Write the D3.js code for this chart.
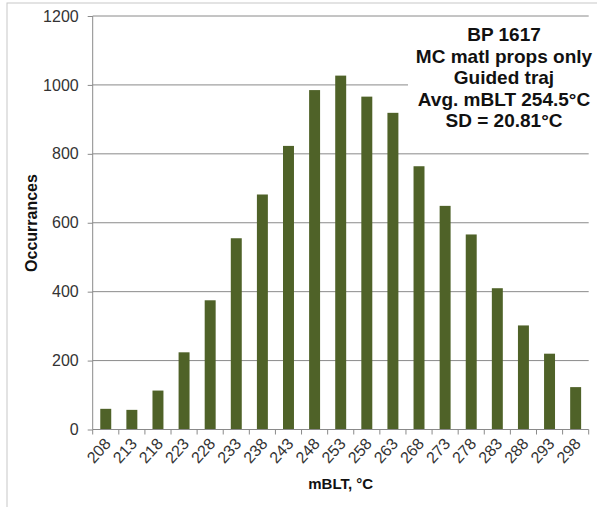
<!DOCTYPE html>
<html>
<head>
<meta charset="utf-8">
<script src="https://cdn.jsdelivr.net/npm/d3@7"></script>
<style>
  html, body { margin: 0; padding: 0; background: #fff; }
  svg { display: block; font-family: "Liberation Sans", Arial, sans-serif; }
</style>
</head>
<body>
<svg id="chart" width="597" height="507"></svg>
<script>
const categories = ["208","213","218","223","228","233","238","243","248","253","258","263","268","273","278","283","288","293","298"];
const occurrences = [60, 57, 113, 224, 375, 555, 682, 823, 985, 1027, 966, 919, 764, 649, 566, 410, 302, 220, 123];
const yTicks = [0, 200, 400, 600, 800, 1000, 1200];
const annotation = ["BP 1617", "MC matl props only", "Guided traj", "Avg. mBLT 254.5°C", "SD = 20.81°C"];
const xTitle = "mBLT, °C";
const yTitle = "Occurrances";

const svg = d3.select("#chart");
const pL = 92.7, pR = 588.7, pT = 16, pB = 429.5;

// outer border
svg.append("rect").attr("x", 7).attr("y", 3).attr("width", 620).attr("height", 530)
  .attr("fill", "none").attr("stroke", "#c8c8c8").attr("stroke-width", 1);

const x = d3.scaleBand().domain(categories).range([pL, pR]).paddingInner(0.58).paddingOuter(0.29);
const xb = d3.scaleBand().domain(categories).range([pL, pR]);
const y = d3.scaleLinear().domain([0, 1200]).range([pB, pT]);

// gridlines
svg.append("g").selectAll("line").data(yTicks.filter(d => d > 0)).join("line")
  .attr("x1", pL).attr("x2", pR)
  .attr("y1", d => y(d)).attr("y2", d => y(d))
  .attr("stroke", "#8a8a8a").attr("stroke-width", 1);

// bars
svg.append("g").selectAll("rect").data(occurrences).join("rect")
  .attr("x", (d, i) => x(categories[i]))
  .attr("width", x.bandwidth())
  .attr("y", d => y(d))
  .attr("height", d => y(0) - y(d))
  .attr("fill", "#4f6228");

// y axis
const yAxis = d3.axisLeft(y).tickValues(yTicks).tickSize(5).tickPadding(9).tickFormat(d3.format("d"));
const gy = svg.append("g").attr("transform", `translate(${pL},0)`).call(yAxis);
gy.select(".domain").attr("stroke", "#8a8a8a").attr("d", `M0,${pT}V${pB}`);
gy.selectAll(".tick line").attr("stroke", "#8a8a8a");
gy.selectAll(".tick text").attr("fill", "#333").style("font-size", "16px")
  .style("font-family", "'Liberation Sans', Arial, sans-serif");

// x axis
const gx = svg.append("g").attr("transform", `translate(0,${pB})`);
gx.append("line").attr("x1", pL).attr("x2", pR).attr("y1", 0).attr("y2", 0).attr("stroke", "#8a8a8a");
const bounds = categories.map(c => xb(c)).concat([pR]);
gx.selectAll("line.tk").data(bounds).join("line").attr("class", "tk")
  .attr("x1", d => d).attr("x2", d => d).attr("y1", 0).attr("y2", 5).attr("stroke", "#8a8a8a");
gx.selectAll("text").data(categories).join("text")
  .attr("transform", d => `translate(${xb(d) + xb.bandwidth() / 2 + 6},${15}) rotate(-48)`)
  .attr("text-anchor", "end")
  .attr("fill", "#333")
  .style("font-size", "16px")
  .text(d => d);

// axis titles
svg.append("text").attr("x", (pL + pR) / 2).attr("y", 489)
  .attr("text-anchor", "middle").style("font-size", "15px").style("font-weight", "bold")
  .attr("fill", "#111").text(xTitle);
svg.append("text").attr("transform", `translate(37,223) rotate(-90)`)
  .attr("text-anchor", "middle").style("font-size", "16px").style("font-weight", "bold")
  .attr("fill", "#111").text(yTitle);

// annotation box
svg.append("rect").attr("x", 408).attr("y", 21).attr("width", 189).attr("height", 120).attr("fill", "#fff");
svg.append("g").selectAll("text").data(annotation).join("text")
  .attr("x", 504).attr("y", (d, i) => 41 + i * 21.6)
  .attr("text-anchor", "middle").style("font-size", "19px").style("font-weight", "bold")
  .attr("fill", "#111").text(d => d);
</script>
</body>
</html>
